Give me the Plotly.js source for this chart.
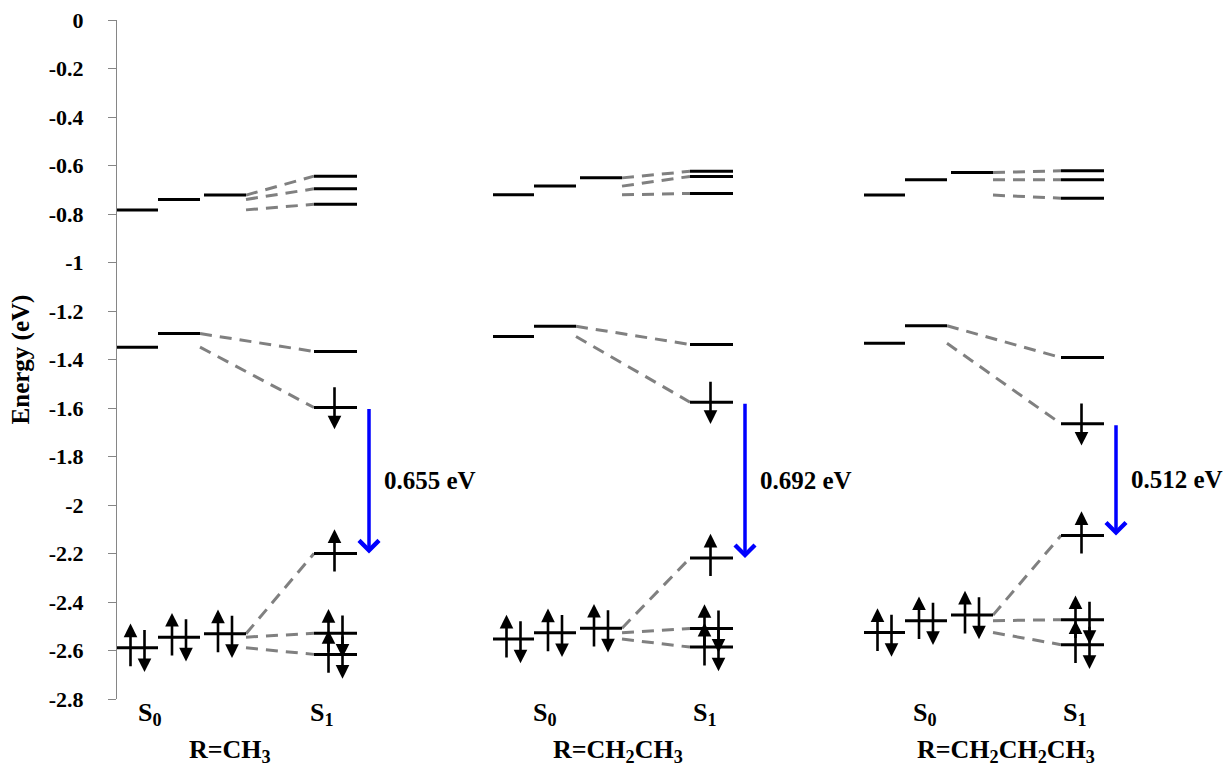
<!DOCTYPE html>
<html><head><meta charset="utf-8">
<script src="https://cdn.plot.ly/plotly-3.0.1.min.js"></script>
<style>html,body{margin:0;padding:0;background:#fff}#chart{width:1225px;height:769px}</style>
</head><body><div id="chart"></div>
<script>
// ---------------- data (energies in eV) ----------------
const panelLabels = ['R=CH<sub>3</sub>', 'R=CH<sub>2</sub>CH<sub>3</sub>', 'R=CH<sub>2</sub>CH<sub>2</sub>CH<sub>3</sub>'];
const stateLabels = ['S<sub>0</sub>', 'S<sub>1</sub>'];
const gapLabels = ['0.655 eV', '0.692 eV', '0.512 eV'];
// S0 higher unoccupied levels (3 per panel) and their S1 counterparts
const s0Upper = [[-0.783, -0.740, -0.722], [-0.721, -0.685, -0.651], [-0.722, -0.659, -0.629]];
const s1Upper = [[-0.644, -0.696, -0.760], [-0.624, -0.645, -0.715], [-0.622, -0.659, -0.735]];
// S0 LUMO pair, S1 LUMO
const s0Lumo = [[-1.349, -1.293], [-1.305, -1.263], [-1.333, -1.261]];
const s1Lumo = [-1.367, -1.338, -1.392];
// S1 singly occupied levels
const s1SomoHigh = [-1.598, -1.576, -1.665];
const s1SomoLow = [-2.200, -2.219, -2.126];
// doubly occupied levels
const s0Homo = [[-2.589, -2.545, -2.531], [-2.553, -2.527, -2.508], [-2.526, -2.477, -2.454]];
const s1Homo = [[-2.529, -2.616], [-2.509, -2.586], [-2.473, -2.576]];
// axis ticks
const tickVals = [0, -0.2, -0.4, -0.6, -0.8, -1, -1.2, -1.4, -1.6, -1.8, -2, -2.2, -2.4, -2.6, -2.8];
const tickLabels = ['0', '-0.2', '-0.4', '-0.6', '-0.8', '-1', '-1.2', '-1.4', '-1.6', '-1.8', '-2', '-2.2', '-2.4', '-2.6', '-2.8'];

// ---------------- layout geometry (not data) ----------------
const X_RANGE = [0, 1108];
const panelX = [0, 376, 747];
const slot = { L1: [0, 41], L2: [41, 83], L3: [87, 129], S1: [197, 240] };
const gapArrowDX = 252, gapTextDX = 13;
const pairDX = 7;
const spinUp = { tail: -0.082, tip: 0.100 };
const spinDown = { tail: 0.080, tip: -0.100 };
const stateLabelX = [[33, 205], [428, 588], [808, 958]];
const panelLabelX = [113, 501, 889];
const FONT = 'Liberation Serif, Times New Roman, serif';
const TXT = 26;

const lvX = [], lvY = [], cnX = [], cnY = [];
const annotations = [];
function level(x0, x1, e) { lvX.push(x0, x1, null); lvY.push(e, e, null); }
function conn(x0, e0, x1, e1) { cnX.push(x0, x1, null); cnY.push(e0, e1, null); }
function arrow(x, yTail, yTip, color, width, head, size) {
  annotations.push({ x: x, y: yTip, ax: x, ay: yTail, xref: 'x', yref: 'y', axref: 'x', ayref: 'y',
    text: '', showarrow: true, arrowhead: head, arrowsize: size, arrowwidth: width, arrowcolor: color,
    standoff: 0, startstandoff: 0 });
}
const SPIN_W = 2.6, SPIN_HEAD = 2, SPIN_SIZE = 1.05;
function pair(xc, e) {
  arrow(xc - pairDX, e + spinUp.tail, e + spinUp.tip, '#000', SPIN_W, SPIN_HEAD, SPIN_SIZE);
  arrow(xc + pairDX, e + spinDown.tail, e + spinDown.tip, '#000', SPIN_W, SPIN_HEAD, SPIN_SIZE);
}
function text(x, y, yref, s, anchor, size) {
  annotations.push({ x: x, y: y, xref: 'x', yref: yref, text: s, showarrow: false,
    xanchor: anchor || 'center', yanchor: 'middle',
    font: { family: FONT, size: size || TXT, color: '#000', weight: 'bold' } });
}

for (let p = 0; p < 3; p++) {
  const o = panelX[p];
  const s = {}; for (const k in slot) s[k] = [o + slot[k][0], o + slot[k][1]];
  const c = k => (s[k][0] + s[k][1]) / 2;
  const s0Slots = ['L1', 'L2', 'L3'];
  // upper levels
  s0Upper[p].forEach((e, i) => level(s[s0Slots[i]][0], s[s0Slots[i]][1], e));
  s1Upper[p].forEach(e => level(s.S1[0], s.S1[1], e));
  conn(s.L3[1], s0Upper[p][2], s.S1[0], s1Upper[p][0]);
  conn(s.L3[1], s0Upper[p][1], s.S1[0], s1Upper[p][1]);
  conn(s.L3[1], s0Upper[p][0], s.S1[0], s1Upper[p][2]);
  // LUMO
  level(s.L1[0], s.L1[1], s0Lumo[p][0]);
  level(s.L2[0], s.L2[1], s0Lumo[p][1]);
  level(s.S1[0], s.S1[1], s1Lumo[p]);
  conn(s.L2[1], s0Lumo[p][1], s.S1[0], s1Lumo[p]);
  conn(s.L2[1], s0Lumo[p][0], s.S1[0], s1SomoHigh[p]);
  // SOMOs
  level(s.S1[0], s.S1[1], s1SomoHigh[p]);
  level(s.S1[0], s.S1[1], s1SomoLow[p]);
  arrow(c('S1') - 1, s1SomoHigh[p] + 0.09, s1SomoHigh[p] - 0.09, '#000', SPIN_W, SPIN_HEAD, SPIN_SIZE);
  arrow(c('S1') - 1, s1SomoLow[p] - 0.08, s1SomoLow[p] + 0.10, '#000', SPIN_W, SPIN_HEAD, SPIN_SIZE);
  // HOMOs
  s0Homo[p].forEach((e, i) => { level(s[s0Slots[i]][0], s[s0Slots[i]][1], e); pair(c(s0Slots[i]), e); });
  s1Homo[p].forEach(e => { level(s.S1[0], s.S1[1], e); pair(c('S1'), e); });
  conn(s.L3[1], s0Homo[p][2], s.S1[0], s1SomoLow[p]);
  conn(s.L3[1], s0Homo[p][1], s.S1[0], s1Homo[p][0]);
  conn(s.L3[1], s0Homo[p][0], s.S1[0], s1Homo[p][1]);
  // gap arrow and label
  arrow(o + gapArrowDX, s1SomoHigh[p], s1SomoLow[p], '#0000FF', 3.5, 4, 1.1);
  text(o + gapArrowDX + gapTextDX, (s1SomoHigh[p] + s1SomoLow[p]) / 2, 'y', gapLabels[p], 'left', 25);
  // state and panel labels
  text(stateLabelX[p][0], -0.022, 'paper', stateLabels[0]);
  text(stateLabelX[p][1], -0.022, 'paper', stateLabels[1]);
  text(panelLabelX[p], -0.077, 'paper', panelLabels[p]);
}

const traces = [
  { x: cnX, y: cnY, mode: 'lines', line: { color: '#808080', width: 3, dash: '12px,8px' }, hoverinfo: 'skip', showlegend: false },
  { x: lvX, y: lvY, mode: 'lines', line: { color: '#000000', width: 3 }, hoverinfo: 'skip', showlegend: false }
];

const layout = {
  width: 1225, height: 769,
  margin: { l: 117, r: 0, t: 20, b: 70, pad: 0 },
  paper_bgcolor: '#ffffff', plot_bgcolor: '#ffffff',
  showlegend: false,
  xaxis: { range: X_RANGE, visible: false, fixedrange: true },
  yaxis: {
    range: [-2.8, 0], tickvals: tickVals, ticktext: tickLabels,
    ticks: 'outside', ticklen: 8, tickwidth: 1, tickcolor: '#868686',
    showline: true, linecolor: '#868686', linewidth: 1,
    showgrid: false, zeroline: false, fixedrange: true,
    ticklabelstandoff: 20,
    tickfont: { family: FONT, size: 22, color: '#000', weight: 'bold' },
    title: { text: 'Energy (eV)', standoff: 12, font: { family: FONT, size: 25, color: '#000', weight: 'bold' } }
  },
  annotations: annotations
};

Plotly.newPlot('chart', traces, layout, { staticPlot: true, displayModeBar: false });
</script>
</body></html>
